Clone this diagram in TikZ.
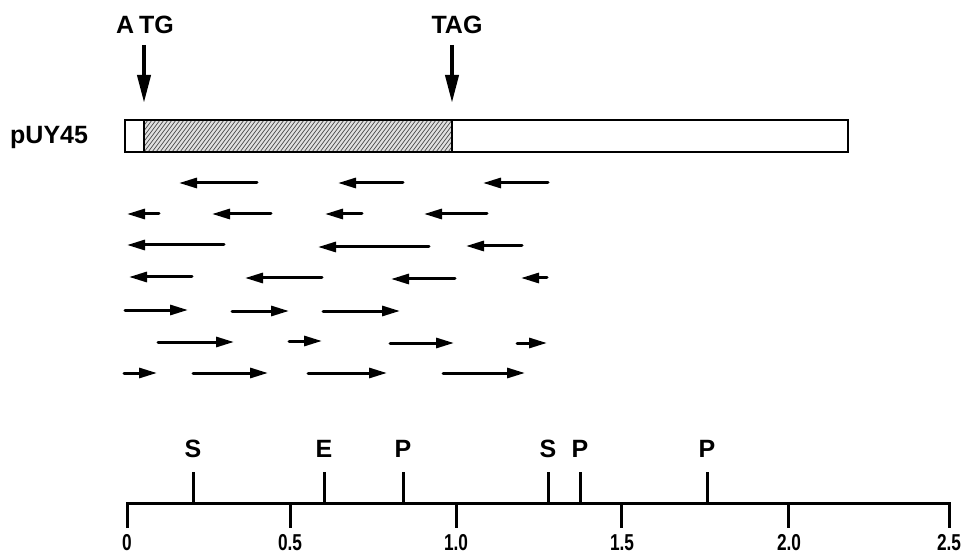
\documentclass[tikz,border=0pt]{standalone}
\usepackage{fontspec}
\setmainfont{Liberation Sans}
\usetikzlibrary{arrows.meta}
\tikzset{
  frag/.style={line width=3pt,line cap=round,-{Triangle[length=18pt,width=10pt]}},
  codon/.style={line width=4pt,-{Triangle[length=28pt,width=13pt]}},
  lbl/.style={font=\fontsize{25}{30}\selectfont\bfseries,inner sep=0pt},
  site/.style={font=\fontsize{25}{30}\selectfont\bfseries,inner sep=0pt},
  num/.style={font=\fontsize{23}{26}\selectfont\bfseries,inner sep=0pt,xscale=0.75},
  barline/.style={line width=2.5pt},
  hatch/.style={line width=0.7pt,black!70},
  tick/.style={line width=3pt},
}
\begin{document}
\begin{tikzpicture}[x=1pt,y=-1pt]
\useasboundingbox (0,0) rectangle (967,556);
% codon labels and arrows
\node[lbl] (atg) at (145,25) {A\hspace{5pt}TG};
\node[lbl] (tag) at (457,25) {TAG};
\coordinate (atgtop) at (144,45);
\coordinate (atgtip) at (144,103);
\coordinate (tagtop) at (452,45);
\coordinate (tagtip) at (452,103);
\draw[codon] (atgtop) -- (atgtip);
\draw[codon] (tagtop) -- (tagtip);
% plasmid bar
\node[lbl,anchor=west] (puy) at (10,137) {pUY45};
\coordinate (b0) at (125,120);
\coordinate (b1) at (848,152);
\begin{scope}
  \clip (144,120) rectangle (452,152);
  \fill[black!12] (144,120) rectangle (452,152);
  \foreach \i in {0,4,...,340} \draw[hatch] (120+\i,152) -- (144+\i,120);
\end{scope}
\draw[barline] (b0) rectangle (b1);
\draw[barline] (144,120) -- (144,152);
\draw[barline] (452,120) -- (452,152);
% leftward fragments (right end / left end)
\foreach \y/\l/\r in {183/179/257, 183/338/403, 183/483/548,
                      214/127/159, 214/212/271, 214/325/362, 214/424/487,
                      245/127/224, 247/318/429, 246/466/522,
                      277/129/192, 278/245/322, 279/391/455, 278/521/547}
  \draw[frag] (\r,\y) -- (\l,\y);
% rightward fragments
\foreach \y/\l/\r in {310/125/188, 311/232/289, 311/323/400,
                      342/158/234, 341/289/322, 343/390/454, 343/517/547,
                      373/124/157, 373/193/268, 373/308/387, 373/443/525}
  \draw[frag] (\l,\y) -- (\r,\y);
% scale
\coordinate (s0) at (127,503);
\coordinate (s1) at (949,503);
\draw[tick] (127,528) -- (s0) -- (s1) -- (949,528);
\foreach \x in {290,456,621,788} \draw[tick] (\x,503) -- (\x,528);
\node[num] (n0) at (127,543) {0};
\node[num] (n05) at (290,543) {0.5};
\node[num] (n10) at (456,543) {1.0};
\node[num] (n15) at (622,543) {1.5};
\node[num] (n20) at (789,543) {2.0};
\node[num] (n25) at (949,543) {2.5};
% restriction sites
\foreach \x/\t/\n in {193/S/sa, 324/E/eb, 403/P/pa, 548/S/sb, 580/P/pb, 707/P/pc}{
  \draw[tick] (\x,472) -- (\x,503);
  \node[site] (\n) at (\x,449) {\t};
}
\end{tikzpicture}
\end{document}
